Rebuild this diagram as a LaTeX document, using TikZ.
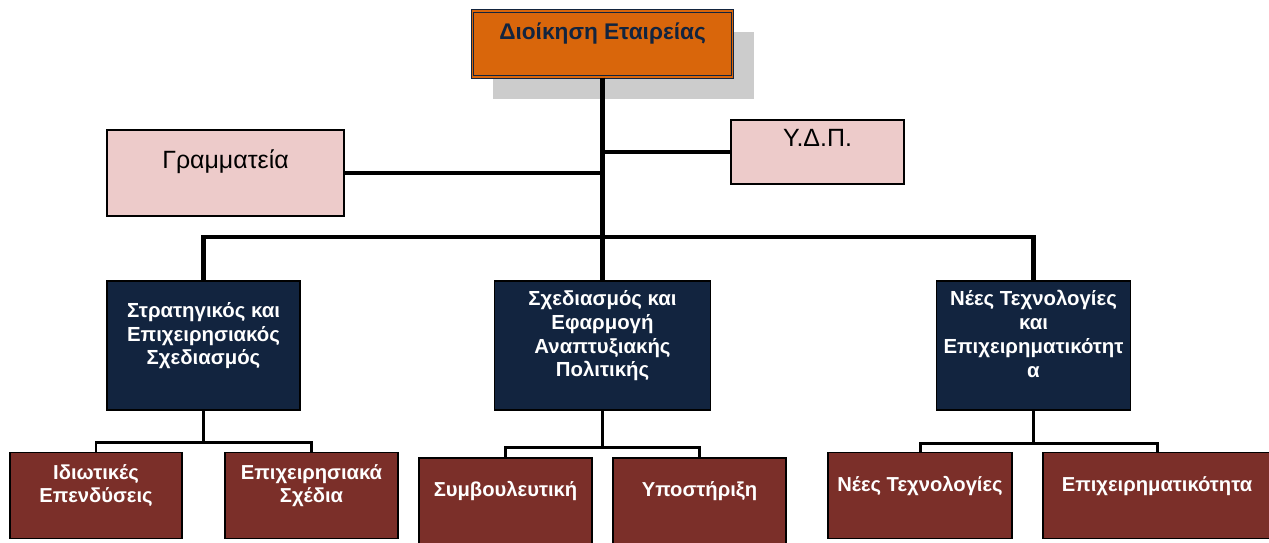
\documentclass[tikz,border=0pt]{standalone}
\usepackage{fontspec}
\setmainfont{Liberation Sans}
\usepackage{xcolor}
\definecolor{ceoOrange}{HTML}{D9660B}
\definecolor{deptNavy}{HTML}{12243F}
\definecolor{unitBrown}{HTML}{7B2F29}
\definecolor{staffPink}{HTML}{EDCBCA}
\definecolor{shadowGrey}{HTML}{CCCCCC}

\begin{document}
\begin{tikzpicture}[x=0.02cm,y=-0.02cm]
    \tikzset{
        box/.style={draw=black,line width=0.8pt,align=center,inner sep=2pt},
        ceo/.style={box,fill=ceoOrange,draw=deptNavy,line width=0.6pt,double=ceoOrange,double distance=0.9pt,
            text=deptNavy,font=\fontsize{12.9}{15}\selectfont\bfseries,minimum width=5.2cm,minimum height=1.32cm},
        staff/.style={box,fill=staffPink,font=\fontsize{14.2}{16}\selectfont},
        dept/.style={box,fill=deptNavy,text=white,font=\fontsize{11.6}{13.6}\selectfont\bfseries,minimum height=2.58cm},
        unit/.style={box,fill=unitBrown,text=white,font=\fontsize{11.5}{13.6}\selectfont\bfseries,minimum height=1.72cm},
        trunk/.style={line width=2.6pt,line join=miter},
        branch/.style={line width=1.7pt,line join=miter}
    }
    \useasboundingbox (0,0) rectangle (1269,542);

    % shadow of the top box
    \fill[shadowGrey] (493,32) rectangle (754,99);

    % top and staff
    \node[ceo] (dioik) at (602.5,44) {Διοίκηση Εταιρείας\\~};
    \node[staff,minimum width=4.74cm,minimum height=1.72cm] (gram) at (225.5,173) {Γραμματεία\\~};
    \node[staff,minimum width=3.46cm,minimum height=1.28cm] (ydp) at (817.5,152) {Υ.Δ.Π.\\~};

    % departments
    \node[dept,minimum width=3.86cm] (strat) at (203.5,345.5) {Στρατηγικός και\\Επιχειρησιακός\\Σχεδιασμός\\~};
    \node[dept,minimum width=4.32cm] (sxed) at (602.5,345.5) {Σχεδιασμός και\\Εφαρμογή\\Αναπτυξιακής\\Πολιτικής\\~};
    \node[dept,minimum width=3.88cm] (tech) at (1033.5,345.5) {Νέες Τεχνολογίες\\και\\Επιχειρηματικότητ\\α\\~};

    % units
    \node[unit,minimum width=3.44cm] (idiot) at (96,495.5) {Ιδιωτικές\\Επενδύσεις\\~};
    \node[unit,minimum width=3.46cm] (epix) at (311.5,495.5) {Επιχειρησιακά\\Σχέδια\\~};
    \node[unit,minimum width=3.46cm] (symv) at (505.5,501) {Συμβουλευτική\\~};
    \node[unit,minimum width=3.46cm] (ypos) at (699.5,501) {Υποστήριξη\\~};
    \node[unit,minimum width=3.68cm] (nees) at (920,495.5) {Νέες Τεχνολογίες\\~};
    \node[unit,minimum width=4.56cm] (epiche) at (1157,495.5) {Επιχειρηματικότητα\\~};

    % connectors
    \coordinate (bus) at (602.5,237);
    \draw[trunk] (dioik.south) -- (sxed.north);
    \draw[trunk] (gram.east) -- (gram.east -| bus);
    \draw[trunk] (ydp.west) -- (ydp.west -| bus);
    \draw[trunk] (strat.north) |- (bus) -| (tech.north);

    \coordinate (stratBus) at (203.5,442.5);
    \coordinate (sxedBus) at (602.5,447.5);
    \coordinate (techBus) at (1033.5,443.5);
    \draw[branch] (strat.south) -- (stratBus);
    \draw[branch] (idiot.north) |- (stratBus) -| (epix.north);
    \draw[branch] (sxed.south) -- (sxedBus);
    \draw[branch] (symv.north) |- (sxedBus) -| (ypos.north);
    \draw[branch] (tech.south) -- (techBus);
    \draw[branch] (nees.north) |- (techBus) -| (epiche.north);
\end{tikzpicture}
\end{document}
